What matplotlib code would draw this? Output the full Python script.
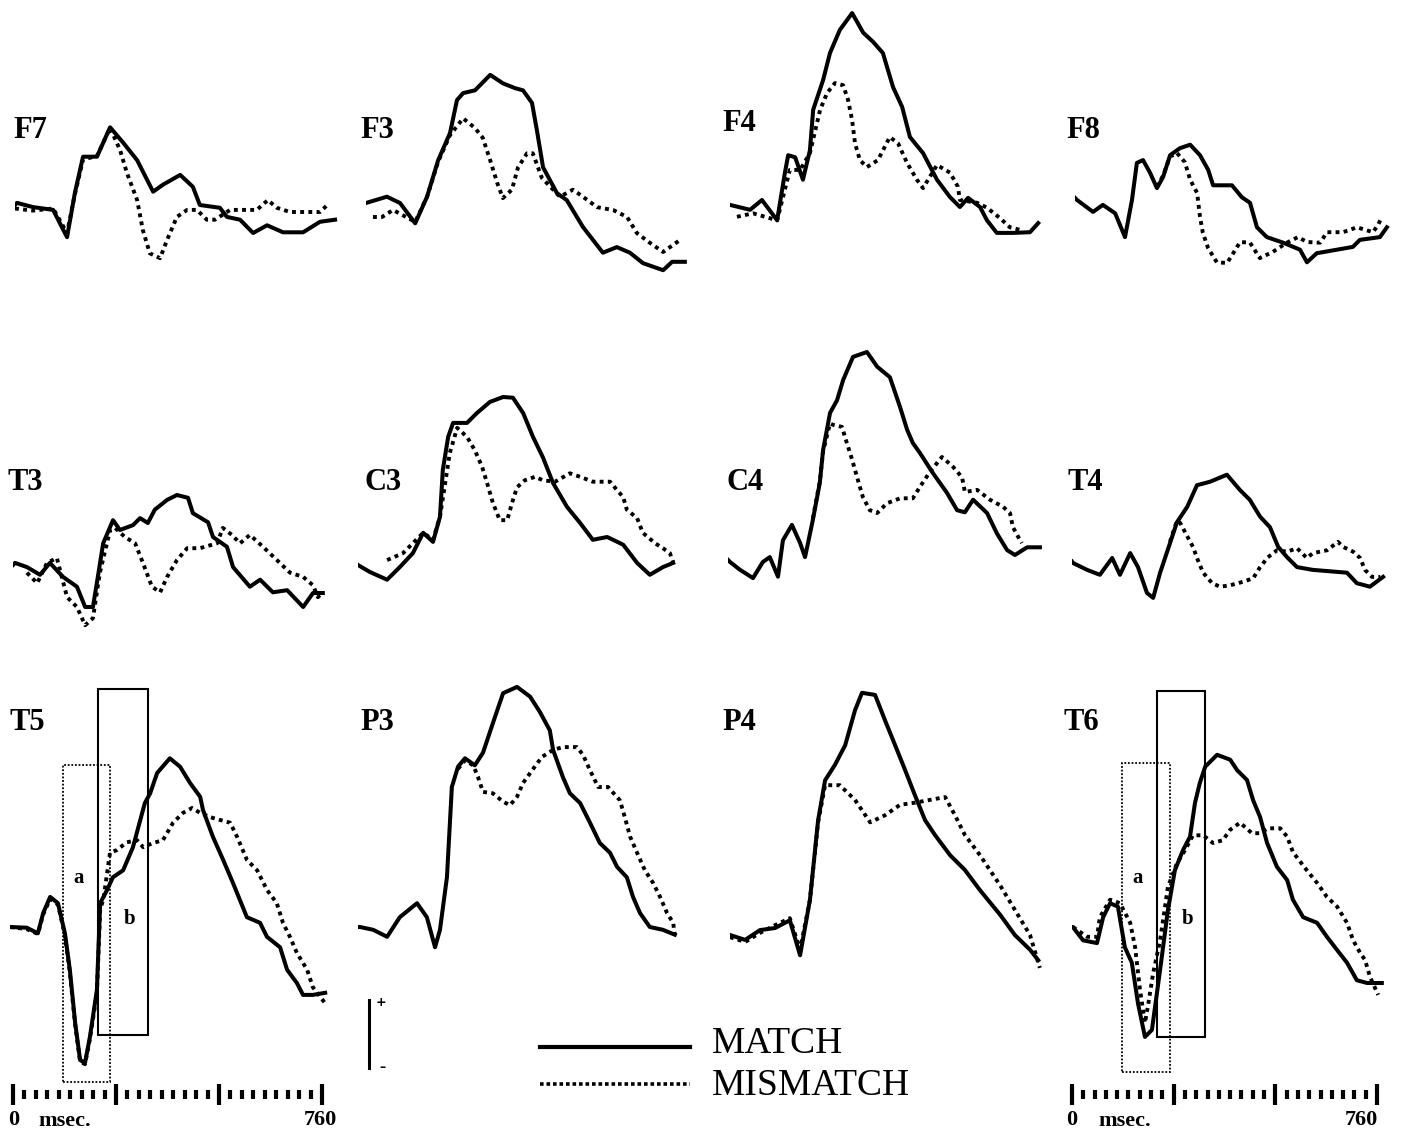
import matplotlib
matplotlib.use('agg')
import matplotlib.pyplot as plt
from matplotlib.patches import Rectangle
import numpy as np

# ERP traces, (time ms, amplitude uV, positive up)
f7_match = [(0, 0), (5, 0.3), (44, -0.3), (93, -0.7), (127, -4.6), (146, 1.7), (166, 6.9), (200, 6.9),
            (232, 11.1), (264, 8.9), (298, 6.4), (337, 1.9), (361, 2.9), (403, 4.3), (434, 2.6), (451, 0),
            (500, -0.4), (517, -1.7), (549, -2.1), (581, -4.0), (615, -2.9), (654, -3.9), (703, -3.9),
            (744, -2.4), (781, -2.1)]
f7_mismatch = [(0, -0.5), (44, -0.8), (93, -0.5), (127, -4.0), (146, 1.5), (166, 6.5), (200, 7.0),
               (232, 11.0), (256, 7.9), (273, 4.6), (298, 0.7), (312, -3.6), (329, -6.9), (354, -7.6),
               (371, -5.0), (395, -1.7), (420, -0.7), (444, -0.7), (468, -2.1), (488, -2.1), (525, -0.7),
               (590, -0.7), (617, 0.7), (639, -0.4), (671, -1.0), (744, -1.0), (764, 0.1)]

f3_match = [(0, 0), (51, 0.9), (83, 0), (120, -2.9), (149, 0.9), (176, 6.1), (205, 10.0), (222, 14.7),
            (237, 15.7), (266, 16.1), (303, 18.3), (334, 17.1), (364, 16.4), (383, 16.1), (405, 14.3),
            (417, 10.4), (432, 5.1), (466, 1.4), (490, 0.4), (529, -3.4), (578, -7.1), (612, -6.3),
            (644, -7.1), (676, -8.6), (725, -9.6), (747, -8.4), (778, -8.4)]
f3_mismatch = [(17, -2.0), (39, -2.0), (66, -1.0), (120, -2.7), (149, 0.9), (176, 5.9), (205, 9.7),
               (237, 12.1), (266, 10.7), (285, 9.3), (303, 6.1), (320, 2.9), (334, 0.7), (356, 1.9),
               (371, 5.1), (393, 7.1), (407, 7.1), (429, 3.6), (473, 0.9), (505, 1.9), (529, 0.9),
               (564, -0.6), (603, -1.0), (637, -2.0), (661, -4.3), (693, -5.7), (725, -7.0), (749, -6.0),
               (766, -5.3)]

f4_match = [(0, 0.3), (49, -0.4), (78, 1.0), (115, -1.9), (134, 4.9), (142, 7.4), (159, 7.1), (178, 3.9),
            (195, 8.1), (203, 13.9), (227, 18.1), (244, 22.0), (268, 25.3), (298, 27.7), (325, 24.9),
            (349, 23.6), (373, 22.0), (398, 17.1), (420, 14.3), (439, 10.0), (471, 7.7), (505, 3.9),
            (537, 1.4), (561, 0), (581, 1.3), (610, 0), (627, -1.9), (651, -3.7), (691, -3.7),
            (732, -3.6), (752, -2.3)]
f4_mismatch = [(17, -1.4), (56, -0.9), (115, -1.9), (146, 5.3), (171, 5.3), (195, 7.7), (220, 13.9),
               (237, 16.3), (256, 17.7), (276, 17.4), (288, 15.3), (298, 12.4), (305, 9.1), (317, 6.7),
               (334, 5.7), (361, 6.7), (390, 10.0), (410, 9.1), (432, 6.3), (456, 3.9), (471, 2.7),
               (505, 6.0), (537, 4.9), (556, 2.9), (561, 1.0), (603, 0.6), (627, -0.1), (659, -1.6),
               (683, -2.9), (710, -3.3)]

f8_match = [(0, 0.3), (5, 0), (44, -1.7), (68, -0.7), (98, -1.9), (122, -5.3), (139, 0), (151, 5.3),
            (166, 5.7), (183, 3.9), (200, 1.7), (215, 3.3), (232, 6.4), (256, 7.4), (281, 7.9),
            (305, 6.4), (325, 4.3), (337, 2.1), (383, 2.1), (407, 0.4), (427, -0.4), (444, -3.9),
            (468, -5.3), (508, -6.1), (549, -7.1), (566, -8.9), (590, -7.6), (639, -7.1), (678, -6.7),
            (695, -5.7), (744, -5.3), (761, -3.9)]
f8_mismatch = [(200, 1.9), (215, 3.5), (232, 6.2), (249, 6.7), (268, 5.4), (281, 2.9), (298, 1.0),
               (305, -2.4), (312, -4.7), (325, -6.9), (346, -8.9), (371, -9.0), (386, -7.6), (403, -6.0),
               (427, -6.1), (451, -8.3), (483, -7.4), (517, -6.1), (544, -5.3), (566, -6.0), (598, -6.1),
               (615, -4.6), (654, -4.6), (688, -3.9), (727, -4.6), (739, -3.6), (749, -2.4)]

t3_match = [(0, 0), (5, 0.3), (34, -0.3), (66, -1.4), (90, 0.3), (122, -1.7), (156, -3.1), (176, -6.0),
            (195, -6.0), (207, -1.7), (220, 3.1), (244, 6.4), (261, 5.0), (293, 5.7), (310, 6.7),
            (329, 6.0), (346, 7.9), (376, 9.3), (400, 10.0), (427, 9.6), (439, 7.4), (476, 6.1),
            (488, 4.0), (522, 2.6), (537, -0.3), (578, -3.1), (603, -2.1), (634, -3.9), (669, -3.6),
            (708, -6.0), (732, -4.0), (756, -4.0)]
t3_mismatch = [(34, -1.1), (59, -2.6), (83, 0.3), (107, 1.0), (132, -4.6), (156, -6.0), (176, -8.6),
               (195, -7.6), (212, -1.1), (237, 5.0), (249, 5.3), (273, 4.0), (298, 3.1), (317, 0.3),
               (339, -3.1), (359, -3.9), (376, -1.7), (400, 0.7), (425, 2.4), (456, 2.4), (498, 3.1),
               (512, 5.3), (534, 4.3), (554, 3.1), (578, 4.3), (610, 2.6), (644, 0.7), (676, -1.1),
               (708, -1.7), (732, -2.9), (744, -4.6), (756, -3.9)]

c3_match = [(0, 0), (29, -1.0), (71, -2.1), (102, -0.3), (134, 1.7), (159, 4.6), (183, 3.3), (200, 6.9),
            (207, 13.6), (220, 18.3), (232, 20.3), (266, 20.3), (290, 21.7), (322, 23.3), (354, 24.0),
            (378, 23.9), (403, 21.7), (427, 18.3), (451, 15.4), (476, 11.7), (510, 8.3), (542, 6.0),
            (573, 3.6), (608, 4.0), (647, 2.9), (681, 0.3), (712, -1.4), (744, -0.3), (769, 0.3)]
c3_mismatch = [(71, 0.7), (110, 1.7), (159, 4.6), (183, 3.6), (200, 6.9), (224, 16.0), (242, 19.6),
               (266, 18.3), (285, 16.4), (303, 14.0), (315, 11.7), (329, 8.9), (346, 6.4), (364, 6.4),
               (376, 8.9), (388, 11.1), (407, 12.1), (432, 12.6), (451, 12.1), (481, 11.9), (517, 13.1),
               (542, 12.6), (573, 11.9), (615, 11.9), (632, 10.7), (647, 9.7), (656, 7.9), (681, 6.7),
               (695, 4.6), (725, 3.1), (744, 2.4), (761, 1.7), (769, 0.4)]

c4_match = [(0, 0.3), (5, 0), (29, -1.1), (61, -2.3), (85, 0), (102, 0.7), (122, -2.1), (134, 3.1),
            (156, 5.3), (176, 2.7), (188, 0.7), (207, 6.0), (224, 11.3), (232, 16.0), (249, 21.3),
            (266, 23.1), (281, 26.0), (305, 29.3), (339, 30.0), (364, 27.9), (395, 26.4), (420, 22.1),
            (437, 18.9), (451, 17.0), (468, 15.6), (500, 12.7), (534, 9.9), (559, 7.4), (578, 7.1),
            (598, 8.9), (632, 7.0), (656, 4.1), (681, 1.7), (700, 1.0), (730, 2.1), (761, 2.1)]
c4_mismatch = [(207, 6.2), (224, 11.5), (232, 15.8), (249, 19.8), (256, 19.6), (278, 19.3), (290, 17.0),
               (303, 14.6), (315, 12.1), (329, 9.3), (346, 7.4), (364, 7.0), (388, 8.4), (420, 9.1),
               (451, 9.1), (468, 10.7), (493, 12.9), (522, 15.0), (549, 13.6), (571, 12.1), (578, 10.0),
               (608, 10.3), (639, 8.9), (671, 7.9), (688, 7.0), (695, 5.0), (708, 3.6), (717, 2.7)]

t4_match = [(0, 0.5), (2, 0.3), (37, -0.7), (68, -1.4), (98, 1.0), (117, -1.4), (142, 1.7), (161, -0.3),
            (183, -4.0), (198, -4.7), (215, -1.1), (239, 3.1), (256, 6.1), (281, 8.3), (305, 11.4),
            (337, 11.9), (378, 12.9), (410, 10.7), (434, 9.3), (459, 6.9), (483, 5.4), (503, 2.6),
            (525, 1.1), (549, -0.3), (588, -0.7), (671, -1.1), (695, -2.6), (727, -3.1), (759, -1.7)]
t4_mismatch = [(239, 3.3), (256, 6.3), (264, 6.0), (283, 3.9), (295, 2.6), (307, 0.7), (320, -1.1),
               (342, -2.6), (361, -3.1), (386, -2.9), (417, -2.4), (442, -1.9), (459, -0.3), (478, 1.1),
               (500, 2.1), (525, 1.9), (549, 2.4), (573, 1.0), (588, 1.7), (622, 2.1), (649, 3.3),
               (661, 2.6), (686, 1.9), (703, 1.0), (715, -0.7), (732, -1.7), (752, -1.7)]

t5_match = [(0, 0), (41, -0.1), (68, -0.9), (81, 2.0), (98, 4.3), (117, 3.4), (134, -0.9), (146, -6.1),
            (159, -13.7), (171, -19.0), (183, -19.4), (195, -15.7), (212, -9.0), (220, 3.4), (237, 5.3),
            (251, 7.1), (276, 8.1), (300, 11.4), (329, 17.7), (342, 19.1), (359, 22.0), (390, 24.1),
            (415, 22.9), (439, 20.6), (464, 18.6), (471, 16.7), (495, 12.9), (520, 9.6), (544, 6.3),
            (578, 1.4), (610, 0.6), (627, -1.4), (659, -2.9), (676, -6.1), (700, -8.0), (715, -9.7),
            (739, -9.7), (769, -9.4)]
t5_mismatch = [(0, 0), (41, -0.3), (68, -1.0), (81, 1.8), (98, 4.0), (117, 3.2), (134, -1.2), (146, -6.5),
               (159, -14.0), (171, -19.2), (183, -19.6), (195, -16.0), (212, -9.5), (220, 2.5), (228, 4.0),
               (244, 10.6), (261, 11.0), (285, 12.1), (310, 12.4), (325, 11.4), (349, 12.0), (373, 12.4),
               (398, 14.9), (422, 16.3), (444, 17.0), (464, 16.3), (488, 15.7), (512, 15.3), (537, 14.9),
               (554, 12.9), (578, 9.6), (603, 8.1), (627, 5.3), (651, 3.4), (666, 0.6), (683, -1.4),
               (700, -3.7), (725, -6.1), (739, -8.6), (769, -10.9)]

p3_match = [(0, 0), (5, 0), (37, -0.4), (71, -1.4), (102, 1.4), (144, 3.4), (168, 1.4), (188, -2.9),
            (200, -0.4), (217, 7.1), (229, 20.0), (244, 22.9), (261, 24.1), (285, 23.1), (305, 24.9),
            (329, 29.1), (354, 33.4), (388, 34.3), (420, 32.9), (444, 30.7), (468, 28.1), (476, 25.3),
            (500, 21.4), (517, 19.1), (542, 17.7), (566, 14.9), (590, 12.0), (615, 10.6), (632, 8.6),
            (656, 7.1), (671, 4.3), (688, 2.0), (712, 0), (744, -0.4), (773, -1.1)]
p3_mismatch = [(244, 22.6), (261, 23.8), (281, 23.1), (293, 21.4), (305, 19.3), (329, 19.1), (354, 17.9),
               (371, 17.4), (388, 18.6), (403, 20.6), (425, 22.4), (449, 24.3), (476, 25.3), (500, 25.7),
               (534, 25.7), (549, 24.6), (566, 22.4), (586, 20.0), (610, 20.0), (639, 18.1), (651, 15.7),
               (664, 12.9), (681, 10.6), (700, 8.1), (720, 6.3), (737, 4.3), (754, 2.0), (769, 0.6),
               (773, -1.1)]

p4_match = [(0, 0), (37, -0.7), (73, 0.7), (110, 1.0), (146, 2.1), (171, -2.9), (195, 5.0), (215, 16.4),
            (232, 22.1), (256, 24.3), (281, 27.1), (305, 32.1), (322, 34.6), (354, 34.3), (378, 30.7),
            (403, 27.1), (427, 23.6), (451, 20.0), (476, 16.4), (500, 14.3), (537, 11.4), (573, 9.3),
            (610, 6.4), (659, 2.9), (695, 0), (732, -2.1), (752, -3.6)]
p4_mismatch = [(0, -0.3), (37, -1.0), (73, 0.3), (110, 1.4), (146, 2.4), (171, -2.1), (195, 5.0),
               (215, 16.1), (232, 21.4), (268, 21.4), (305, 19.3), (342, 16.1), (378, 17.1), (415, 18.6),
               (451, 18.9), (488, 19.3), (525, 19.7), (549, 17.1), (573, 14.3), (610, 11.4), (659, 7.1),
               (695, 3.6), (732, 0), (756, -4.7)]

t6_match = [(0, 0), (2, 0), (27, -1.9), (61, -2.3), (76, 1.4), (93, 3.4), (112, 2.9), (129, -2.9),
            (146, -5.1), (161, -10.9), (178, -15.7), (195, -14.7), (215, -6.1), (234, 2.4), (251, 8.1),
            (271, 11.0), (288, 12.9), (300, 17.7), (312, 20.6), (325, 22.9), (354, 24.6), (386, 23.9),
            (403, 22.4), (427, 21.0), (442, 18.1), (459, 15.7), (476, 12.0), (500, 8.6), (525, 6.7),
            (539, 3.9), (564, 1.4), (598, 0.6), (622, -1.4), (647, -3.3), (671, -5.1), (695, -7.6),
            (720, -8.0), (756, -8.0)]
t6_mismatch = [(2, 0), (37, -1.4), (61, -1.4), (68, 1.4), (93, 3.9), (117, 3.4), (142, 0.6), (154, -2.9),
               (166, -9.0), (178, -13.7), (185, -11.4), (198, -6.6), (215, -1.9), (234, 5.7), (256, 9.1),
               (276, 11.0), (295, 13.1), (320, 13.1), (344, 12.0), (368, 12.4), (386, 13.9), (410, 14.9),
               (439, 13.4), (459, 13.4), (478, 14.1), (508, 14.1), (525, 12.9), (539, 10.7), (573, 8.1),
               (598, 6.3), (622, 4.3), (647, 2.9), (671, 0.6), (686, -1.9), (703, -3.7), (715, -4.7),
               (727, -7.1), (747, -9.7)]

electrodes = ['F7', 'F3', 'F4', 'F8', 'T3', 'C3', 'C4', 'T4', 'T5', 'P3', 'P4', 'T6']
match_traces = [f7_match, f3_match, f4_match, f8_match, t3_match, c3_match, c4_match, t4_match,
                t5_match, p3_match, p4_match, t6_match]
mismatch_traces = [f7_mismatch, f3_mismatch, f4_mismatch, f8_mismatch, t3_mismatch, c3_mismatch,
                   c4_mismatch, t4_mismatch, t5_mismatch, p3_mismatch, p4_mismatch, t6_mismatch]

# analysis windows a (dotted box) and b (solid box): t0, t1, v_low, v_high
t5_win_a = (129, 244, -22.1, 23.1)
t5_win_b = (215, 337, -15.4, 34.0)
t6_win_a = (122, 239, -20.7, 23.4)
t6_win_b = (207, 325, -15.7, 33.7)

epoch_ms = 760
n_ticks = 28

# ---- layout (pixels) ----
W, H = 1422, 1139
PX_MS = 1 / 2.44
PX_UV = 7.0
TMAX = 800
VMIN, VMAX = -26, 40
# (x of t=0, y of 0 uV, label x, label y)
layout = {
    'F7': (15, 205, 13, 130), 'F3': (366, 203, 360, 130), 'F4': (730, 207, 722, 123), 'F8': (1075, 200, 1066, 130),
    'T3': (13, 565, 8, 483), 'C3': (358, 565, 365, 483), 'C4': (728, 562, 727, 483), 'T4': (1072, 565, 1068, 483),
    'T5': (10, 927, 10, 723), 'P3': (358, 927, 360, 723), 'P4': (730, 935, 722, 723), 'T6': (1072, 927, 1063, 723),
}
# time scale: (x of 0 tick, x of 760 tick, '0' x, 'msec.' x, '760' x, '760' alignment)
scales = [(13, 322, 14, 38, 320, 'center'), (1072, 1377, 1072, 1098, 1378, 'right')]

SERIF = ['Liberation Serif', 'DejaVu Serif']
fig = plt.figure(figsize=(W / 100, H / 100), dpi=100)


def px_axes(x, y_top, w, h):
    ax = fig.add_axes([x / W, 1 - (y_top + h) / H, w / W, h / H])
    ax.set_axis_off()
    ax.patch.set_alpha(0)
    return ax


panel_axes = {}
for name, m, mm in zip(electrodes, match_traces, mismatch_traces):
    x0, yb, lx, ly = layout[name]
    ax = px_axes(x0, yb - VMAX * PX_UV, TMAX * PX_MS, (VMAX - VMIN) * PX_UV)
    ax.set_xlim(0, TMAX)
    ax.set_ylim(VMIN, VMAX)
    t, v = zip(*mm)
    ax.plot(t, v, color='black', lw=2.8, linestyle=(0, (1, 1.1)), dash_capstyle='butt')
    t, v = zip(*m)
    ax.plot(t, v, color='black', lw=2.9, solid_joinstyle='round')
    fig.text(lx / W, 1 - ly / H, name, fontsize=22, fontweight='bold', family=SERIF,
             ha='left', va='center')
    panel_axes[name] = ax

for name, win_a, win_b in [('T5', t5_win_a, t5_win_b), ('T6', t6_win_a, t6_win_b)]:
    ax = panel_axes[name]
    ax.add_patch(Rectangle((win_a[0], win_a[2]), win_a[1] - win_a[0], win_a[3] - win_a[2],
                           fill=False, lw=1.3, linestyle=(0, (1, 1)), edgecolor='black'))
    ax.add_patch(Rectangle((win_b[0], win_b[2]), win_b[1] - win_b[0], win_b[3] - win_b[2],
                           fill=False, lw=1.5, edgecolor='black'))
    ax.text(win_a[0] + (win_b[0] - win_a[0]) * 0.45, 7.0, 'a', fontsize=15, fontweight='bold',
            family=SERIF, ha='center', va='center')
    ax.text((win_a[1] + win_b[1]) / 2, 1.2, 'b', fontsize=15, fontweight='bold',
            family=SERIF, ha='center', va='center')

# time scale under T5 and T6
tick_ms = np.linspace(0, epoch_ms, n_ticks)
for xa, xb, lab0, labm, lab760, al760 in scales:
    ax = px_axes(xa, 1082, xb - xa, 24)
    ax.set_xlim(0, epoch_ms)
    ax.set_ylim(1, 0)
    for i, tm in enumerate(tick_ms):
        if i % 9 == 0:
            ax.vlines(tm, 0.1, 0.95, color='black', lw=3.0, clip_on=False)
        else:
            ax.vlines(tm, 0.35, 0.7, color='black', lw=3.0, clip_on=False)
    fig.text(lab0 / W, 1 - 1120 / H, '0', fontsize=16, fontweight='bold', family=SERIF, ha='center', va='center')
    fig.text(labm / W, 1 - 1121 / H, 'msec.', fontsize=16, fontweight='bold', family=SERIF, ha='left', va='center')
    fig.text(lab760 / W, 1 - 1120 / H, str(epoch_ms), fontsize=16, fontweight='bold', family=SERIF,
             ha=al760, va='center')

# overlay for calibration bar and legend
ov = px_axes(0, 0, W, H)
ov.set_xlim(0, W)
ov.set_ylim(H, 0)
ov.plot([369, 369], [1000, 1068], color='black', lw=2.2)
ov.text(381, 1002, '+', fontsize=9, fontweight='bold', ha='center', va='center')
ov.text(382, 1068, '\u2013', fontsize=9, fontweight='bold', ha='center', va='center')
ov.plot([540, 690], [1047, 1047], color='black', lw=3.0)
ov.plot([540, 690], [1084, 1084], color='black', lw=2.6, linestyle=(0, (1, 0.8)), dash_capstyle='butt')
ov.text(712, 1044, 'MATCH', fontsize=27, family=SERIF, ha='left', va='center')
ov.text(712, 1086, 'MISMATCH', fontsize=27, family=SERIF, ha='left', va='center')

fig.savefig('out.png', dpi=100)
